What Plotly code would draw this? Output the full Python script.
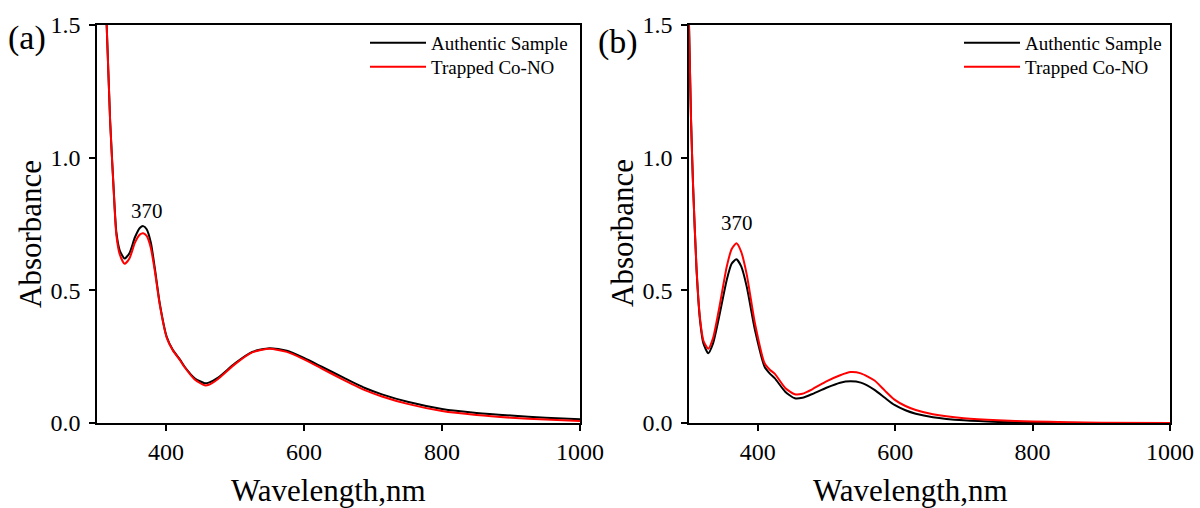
import plotly.graph_objects as go

# ---------------- data ----------------
wl_a = [310, 314, 319, 324, 328, 333, 340, 347, 355, 362, 367, 372, 378, 384, 391,
        401, 410, 420, 427, 442, 456, 462, 475, 500, 525, 550, 575, 600, 625, 658,
        690, 713, 750, 800, 850, 900, 950, 1000]
auth_a = [1.70, 1.50, 1.14, 0.89, 0.72, 0.65, 0.62, 0.64, 0.70, 0.735, 0.742, 0.73, 0.68,
          0.58, 0.45, 0.325, 0.275, 0.24, 0.212, 0.168, 0.150, 0.152, 0.170, 0.225, 0.268,
          0.282, 0.272, 0.245, 0.213, 0.170, 0.130, 0.108, 0.080, 0.053, 0.038, 0.028,
          0.020, 0.014]
trap_a = [1.70, 1.50, 1.14, 0.885, 0.71, 0.635, 0.60, 0.62, 0.68, 0.71, 0.715, 0.705, 0.66,
          0.57, 0.445, 0.322, 0.273, 0.238, 0.21, 0.163, 0.142, 0.144, 0.165, 0.222, 0.266,
          0.280, 0.268, 0.24, 0.206, 0.162, 0.122, 0.100, 0.072, 0.045, 0.030, 0.020,
          0.013, 0.008]

wl_b = [300, 303, 306, 311, 316, 321, 328, 335, 343, 355, 362, 369, 376, 384, 396, 410,
        418, 425, 440, 454, 465, 480, 500, 520, 535, 550, 570, 585, 599, 615, 630, 655,
        700, 750, 800, 850, 900, 1000]
auth_b = [1.50, 1.14, 0.89, 0.577, 0.388, 0.30, 0.263, 0.30, 0.39, 0.54, 0.60, 0.617, 0.59,
          0.514, 0.35, 0.212, 0.185, 0.168, 0.118, 0.093, 0.095, 0.110, 0.133, 0.152, 0.157,
          0.152, 0.125, 0.095, 0.068, 0.048, 0.035, 0.022, 0.010, 0.004, 0.002, 0.001,
          0.000, 0.000]
trap_b = [1.50, 1.14, 0.89, 0.58, 0.395, 0.31, 0.28, 0.32, 0.42, 0.59, 0.655, 0.677, 0.645,
          0.56, 0.375, 0.225, 0.20, 0.185, 0.132, 0.108, 0.110, 0.128, 0.157, 0.180, 0.192,
          0.187, 0.160, 0.122, 0.088, 0.064, 0.049, 0.033, 0.018, 0.010, 0.006, 0.003,
          0.001, 0.000]

series_names = ["Authentic Sample", "Trapped Co-NO"]
colors = ["#000000", "#ff0000"]
x_ticks = [400, 600, 800, 1000]
y_ticks = [0.0, 0.5, 1.0, 1.5]
peak_label = "370"
x_title = "Wavelength,nm"
y_title = "Absorbance"

FONT = "Liberation Serif, Times New Roman, serif"

# page geometry (pixels)
L, R, T, B = 97, 30, 25, 85
W, H = 1200 - L - R, 508 - T - B


def px(xp):
    return (xp - L) / W


def py(yp):
    return (T + H - yp) / H


fig = go.Figure()

panels = [
    ("x", "y", ["legend", "legend2"], wl_a, [auth_a, trap_a]),
    ("x2", "y2", ["legend3", "legend4"], wl_b, [auth_b, trap_b]),
]
for xa, ya, lgs, wl, ys in panels:
    for name, col, yv, lg in zip(series_names, colors, ys, lgs):
        fig.add_trace(go.Scatter(
            x=wl, y=yv, mode="lines", name=name, xaxis=xa, yaxis=ya,
            legend=lg,
            line=dict(color=col, width=2, shape="spline", smoothing=0.6),
        ))

axis_common = dict(
    showline=True, linecolor="black", linewidth=1.6, mirror=True,
    ticks="outside", ticklen=6, tickwidth=1.6, tickcolor="black",
    showgrid=False, zeroline=False, automargin=False,
    tickfont=dict(family=FONT, size=24, color="black"),
)

legend_common = dict(xanchor="left", yanchor="middle", bgcolor="rgba(0,0,0,0)",
                     borderwidth=0, font=dict(family=FONT, size=19, color="black"),
                     itemwidth=56)

fig.update_layout(
    width=1200, height=508,
    margin=dict(l=L, r=R, t=T, b=B, autoexpand=False),
    paper_bgcolor="white", plot_bgcolor="white",
    font=dict(family=FONT, color="black"),
    xaxis=dict(domain=[0, px(580)], range=[300, 1000], tickvals=x_ticks,
               anchor="y", **axis_common),
    yaxis=dict(domain=[0, 1], range=[0, 1.5], tickvals=y_ticks, tickformat=".1f",
               anchor="x", ticklabelstandoff=4, **axis_common),
    xaxis2=dict(domain=[px(689), 1], range=[300, 1000], tickvals=x_ticks,
                anchor="y2", **axis_common),
    yaxis2=dict(domain=[0, 1], range=[0, 1.5], tickvals=y_ticks, tickformat=".1f",
                anchor="x2", ticklabelstandoff=4, **axis_common),
    legend=dict(x=px(365), y=py(43), **legend_common),
    legend2=dict(x=px(365), y=py(67), **legend_common),
    legend3=dict(x=px(959), y=py(43), **legend_common),
    legend4=dict(x=px(959), y=py(67), **legend_common),
    showlegend=True,
)


def text_at(xp, yp, text, size, angle=0):
    fig.add_annotation(x=px(xp), y=py(yp), xref="paper", yref="paper", text=text,
                       textangle=angle, showarrow=False, xanchor="center",
                       yanchor="middle", font=dict(family=FONT, size=size, color="black"))


# axis titles
text_at(30, 234, y_title, 31, -90)
text_at(622, 233, y_title, 31, -90)
text_at(328, 490, x_title, 31)
text_at(910, 490, x_title, 31)

# panel labels
text_at(27, 38, "(a)", 34)
text_at(618, 42, "(b)", 34)

# peak labels
fig.add_annotation(x=372, y=0.80, xref="x", yref="y", text=peak_label, showarrow=False,
                   xanchor="center", font=dict(family=FONT, size=21, color="black"))
fig.add_annotation(x=370, y=0.755, xref="x2", yref="y2", text=peak_label, showarrow=False,
                   xanchor="center", font=dict(family=FONT, size=21, color="black"))

fig.write_html("out.html")
